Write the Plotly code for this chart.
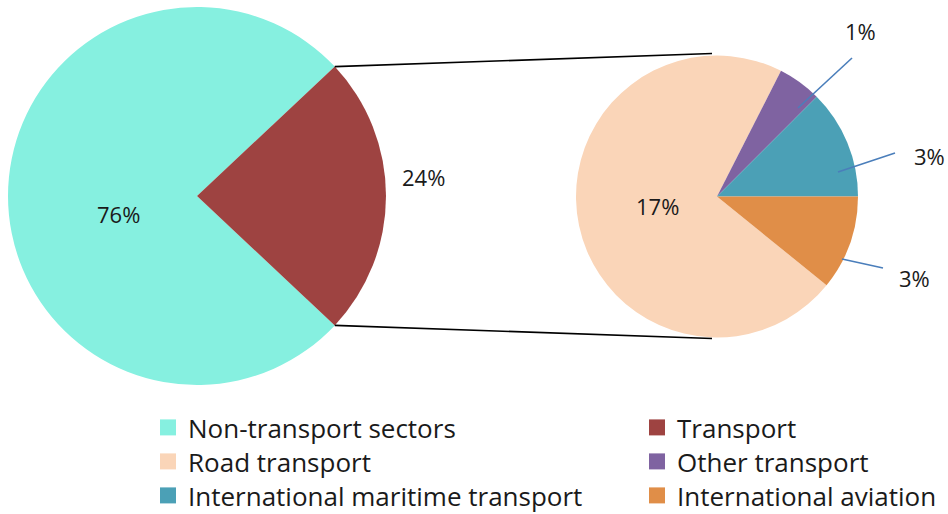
import math
import plotly.graph_objects as go

# Share of emissions: transport vs everything else
main_labels = ["Non-transport sectors", "Transport"]
main_values = [76, 24]
main_colors = ["#86F0E0", "#9E4341"]

# Breakdown of the transport share
sub_labels = ["Road transport", "Other transport",
              "International maritime transport", "International aviation"]
sub_values = [17.2, 1.2, 3.0, 2.6]
sub_colors = ["#FAD5B8", "#7F63A1", "#4BA0B6", "#E08E48"]

W, H = 948, 514
FONT = "Open Sans"
TXT = "#1a1a1a"


def px(x):
    return x / W


def py(y):
    return 1 - y / H


# pie geometry (pixels)
L_CX, L_CY, L_R = 197, 196, 189
R_CX, R_CY, R_R = 717, 196.5, 141

fig = go.Figure()

transport_share = main_values[1] / sum(main_values)
half = transport_share * 180  # half-angle of the transport wedge, centred on 3 o'clock

fig.add_trace(go.Pie(
    labels=main_labels, values=main_values, sort=False,
    direction="clockwise", rotation=90 + half,
    marker=dict(colors=main_colors, line=dict(width=0)),
    textinfo="none", hoverinfo="label+percent", showlegend=False,
    domain=dict(x=[px(L_CX - L_R), px(L_CX + L_R)],
                y=[py(L_CY + L_R), py(L_CY - L_R)]),
))

aviation_angle = sub_values[3] / sum(sub_values) * 360
fig.add_trace(go.Pie(
    labels=sub_labels, values=sub_values, sort=False,
    direction="clockwise", rotation=90 + aviation_angle,
    marker=dict(colors=sub_colors, line=dict(width=0)),
    textinfo="none", hoverinfo="label+value", showlegend=False,
    domain=dict(x=[px(R_CX - R_R), px(R_CX + R_R)],
                y=[py(R_CY + R_R), py(R_CY - R_R)]),
))

# legend: two columns, three rows, one small legend per cell
legend_cells = [
    (main_labels[0], main_colors[0], 0, 0), (main_labels[1], main_colors[1], 1, 0),
    (sub_labels[0], sub_colors[0], 0, 1), (sub_labels[1], sub_colors[1], 1, 1),
    (sub_labels[2], sub_colors[2], 0, 2), (sub_labels[3], sub_colors[3], 1, 2),
]
col_x = [148, 637]
row_top = 404
row_step = 34

legend_style = dict(
    orientation="v", yanchor="top", xanchor="left",
    font=dict(family=FONT, size=26, color=TXT),
    bgcolor="rgba(0,0,0,0)", itemclick=False, itemdoubleclick=False,
)
legend_layout = {}
for i, (name, col, c, r) in enumerate(legend_cells):
    key = "legend" if i == 0 else f"legend{i + 1}"
    fig.add_trace(go.Scatter(
        x=[None], y=[None], mode="markers", name=name, legend=key,
        marker=dict(symbol="square", size=16, color=col),
    ))
    legend_layout[key] = dict(x=px(col_x[c]), y=py(row_top + r * row_step), **legend_style)

# connector lines from the transport wedge to the breakdown pie
a = math.radians(half)
x0 = L_CX + L_R * math.cos(a)
y_top = L_CY - L_R * math.sin(a)
y_bot = L_CY + L_R * math.sin(a)
shapes = [
    dict(type="line", xref="paper", yref="paper",
         x0=px(x0), y0=py(y_top), x1=px(R_CX - 5), y1=py(R_CY - R_R - 2),
         line=dict(color="black", width=1.6)),
    dict(type="line", xref="paper", yref="paper",
         x0=px(x0), y0=py(y_bot), x1=px(R_CX - 5), y1=py(R_CY + R_R + 1),
         line=dict(color="black", width=1.6)),
]

# leader lines for the small slices
leader = "#4A7EBB"
for (xa, ya, xb, yb) in [(798, 108, 852, 58), (838, 172, 895, 153), (842, 259, 883, 268)]:
    shapes.append(dict(type="line", xref="paper", yref="paper",
                       x0=px(xa), y0=py(ya), x1=px(xb), y1=py(yb),
                       line=dict(color=leader, width=1.6)))


def pct(v):
    return f"{v:.0f}%"


label_pos = [
    (pct(main_values[0]), 118, 214),
    (pct(main_values[1]), 423, 177),
    (pct(sub_values[0]), 657, 206),
    (pct(sub_values[1]), 860, 31),
    (pct(sub_values[2]), 929, 156),
    (pct(sub_values[3]), 914, 278),
]
annotations = [
    dict(text=t, x=px(x), y=py(y), xref="paper", yref="paper",
         xanchor="center", yanchor="middle", showarrow=False,
         font=dict(family=FONT, size=22, color=TXT))
    for t, x, y in label_pos
]

fig.update_layout(
    width=W, height=H,
    margin=dict(l=0, r=0, t=0, b=0, autoexpand=False),
    paper_bgcolor="white", plot_bgcolor="white",
    xaxis=dict(visible=False, range=[0, 1], fixedrange=True),
    yaxis=dict(visible=False, range=[0, 1], fixedrange=True),
    shapes=shapes, annotations=annotations,
    showlegend=True,
    **legend_layout,
)

fig.write_html("out.html")
